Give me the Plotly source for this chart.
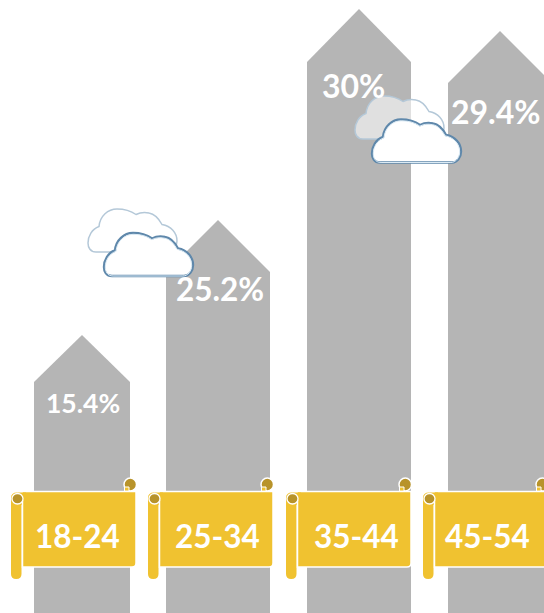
import plotly.graph_objects as go

# Data
categories = ["18-24", "25-34", "35-44", "45-54"]
percent_labels = ["15.4%", "25.2%", "30%", "29.4%"]
arrow_tip_heights = [278, 393, 604, 582]
arrow_shoulder_heights = [231, 341, 551, 530]

W, H = 544, 613
COL_LEFT = [34, 166, 307, 448]
COL_RIGHT = [130, 270, 411, 552]
LABEL_X = [83, 220, 353, 496]
LABEL_Y = [210, 324, 528, 502]
LABEL_SIZE = [26.5, 31.5, 32, 32]
SCROLL_DX = [0, 137, 275, 412]
CAT_X = [77.5, 217, 356.5, 487]
GRAY = "#b5b5b5"
GOLD = "#f0c230"
DARK = "#b8932a"

fig = go.Figure()
for i, cat in enumerate(categories):
    l, r = COL_LEFT[i], COL_RIGHT[i]
    fig.add_trace(go.Scatter(
        x=[l, l, (l + r) / 2, r, r, l],
        y=[0, arrow_shoulder_heights[i], arrow_tip_heights[i], arrow_shoulder_heights[i], 0, 0],
        mode="lines", fill="toself", fillcolor=GRAY, line=dict(width=0),
        name=cat, hoverinfo="skip", showlegend=False))


def Y(y):
    return H - y


CLOUD = [("M", 8, 43), ("C", 2, 43, 0, 38, 0, 34), ("C", 0, 27, 4, 20, 11, 17.5),
         ("C", 12, 7, 20, 0, 29, 0), ("C", 37, 0, 43, 2, 48, 5.5),
         ("C", 52, 3.5, 56, 3, 61, 4), ("C", 67, 5, 71, 10, 74, 15.5),
         ("C", 83, 17, 89, 24, 89, 32), ("C", 89, 38, 85, 43, 80, 43)]


def cloud_path(x0, y0, scale=1.0, inset=0.0):
    parts = []
    for seg in CLOUD:
        pts = seg[1:]
        coords = [f"{pts[j] * scale + x0 + inset:.2f},{Y(pts[j + 1] * scale + y0 + inset):.2f}"
                  for j in range(0, len(pts), 2)]
        parts.append(seg[0] + " " + " ".join(coords))
    return " ".join(parts) + " Z"


shapes = []
for dx in SCROLL_DX:
    # right curl
    shapes.append(dict(type="circle", xref="x", yref="y", x0=124 + dx, x1=136.5 + dx, y0=Y(491), y1=Y(478),
                       fillcolor=DARK, line=dict(color="white", width=1.5)))
    # body
    b = (f"M {22+dx},{Y(491.5)} L {136+dx},{Y(491.5)} L {136+dx},{Y(563)} "
         f"Q {136+dx},{Y(567)} {132+dx},{Y(567)} L {22+dx},{Y(567)} Z")
    shapes.append(dict(type="path", xref="x", yref="y", path=b, fillcolor=GOLD,
                       line=dict(color="white", width=1.5)))
    # curl tail
    shapes.append(dict(type="rect", xref="x", yref="y", x0=124.5 + dx, x1=129 + dx, y0=Y(491), y1=Y(487),
                       fillcolor=GOLD, line=dict(color="white", width=1)))
    # left roll, merged with the top-left corner of the body
    r = (f"M {11+dx},{Y(498)} Q {11+dx},{Y(492.5)} {17+dx},{Y(492.5)} L {26+dx},{Y(492.5)} L {26+dx},{Y(505)} "
         f"L {21.5+dx},{Y(505)} L {21.5+dx},{Y(574)} Q {21.5+dx},{Y(579)} {16.2+dx},{Y(579)} "
         f"Q {11+dx},{Y(579)} {11+dx},{Y(574)} Z")
    shapes.append(dict(type="path", xref="x", yref="y", path=r, fillcolor=GOLD, line=dict(width=0)))
    shapes.append(dict(type="line", xref="x", yref="y", x0=22.5 + dx, x1=22.5 + dx, y0=Y(500), y1=Y(568),
                       line=dict(color="white", width=1.5)))
    shapes.append(dict(type="circle", xref="x", yref="y", x0=12 + dx, x1=23 + dx, y0=Y(504), y1=Y(493.5),
                       fillcolor=DARK, line=dict(color="white", width=1.3)))

for (bx, by, fx, fy) in [(88, 209, 104, 233), (355, 96, 372, 119.5)]:
    shapes.append(dict(type="path", xref="x", yref="y", path=cloud_path(bx, by),
                       fillcolor="rgba(255,255,255,0.58)", line=dict(color="#b4c8d8", width=1.5)))
    shapes.append(dict(type="path", xref="x", yref="y", path=cloud_path(fx, fy),
                       fillcolor="white", line=dict(color="#5f88ab", width=2.4)))
    # faint blue glow just inside the front cloud's outline
    shapes.append(dict(type="path", xref="x", yref="y", path=cloud_path(fx, fy, 0.97, 1.3),
                       fillcolor="rgba(0,0,0,0)", line=dict(color="#dcebf5", width=1)))

annotations = []
for i in range(4):
    annotations.append(dict(x=LABEL_X[i], y=LABEL_Y[i], text=percent_labels[i], showarrow=False,
                            xref="x", yref="y", xanchor="center", yanchor="middle",
                            font=dict(family="Lato", size=LABEL_SIZE[i], color="white", weight="bold")))
    annotations.append(dict(x=CAT_X[i], y=Y(535.5), text=categories[i], showarrow=False,
                            xref="x", yref="y", xanchor="center", yanchor="middle",
                            font=dict(family="Lato", size=31.5, color="white", weight="bold")))

fig.update_layout(
    width=W, height=H, margin=dict(l=0, r=0, t=0, b=0),
    paper_bgcolor="white", plot_bgcolor="white", showlegend=False,
    xaxis=dict(range=[0, W], visible=False, fixedrange=True),
    yaxis=dict(range=[0, H], visible=False, fixedrange=True),
    shapes=shapes, annotations=annotations)

fig.write_html("out.html", config=dict(displayModeBar=False),
               post_script="document.body.style.margin='0';document.body.style.overflow='hidden';")
